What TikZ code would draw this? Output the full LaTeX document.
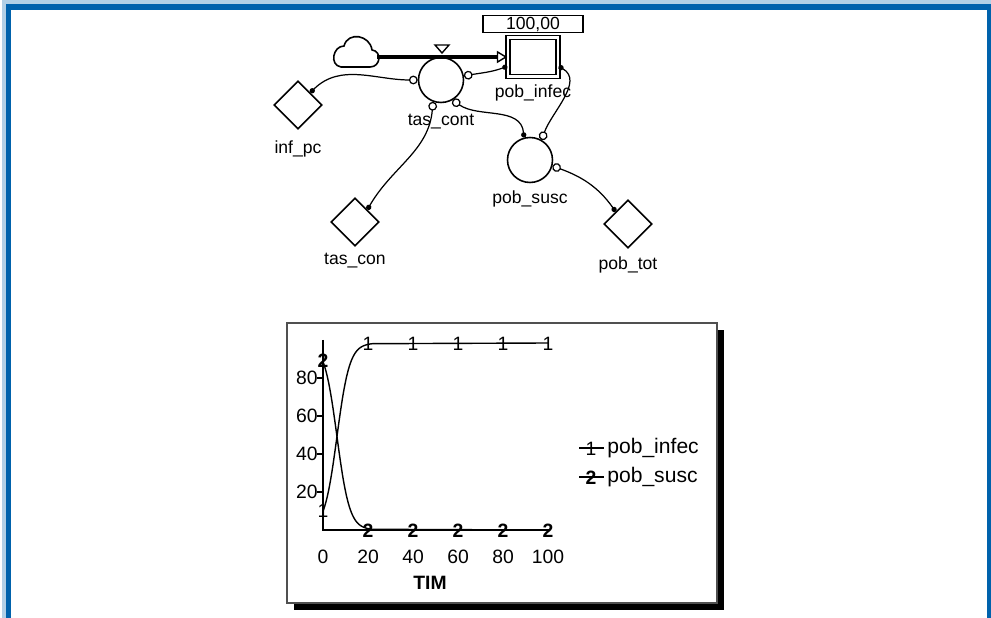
\documentclass[tikz,border=0pt]{standalone}
\usepackage{fontspec}
\setmainfont{Liberation Sans}
\usetikzlibrary{shapes.geometric, arrows.meta, positioning}
\definecolor{lframe}{HTML}{0062AC}
\definecolor{lbox}{HTML}{505050}

\begin{document}
\begin{tikzpicture}[x=0.02cm, y=-0.02cm,
  every node/.style={font=\fontsize{10}{12}\selectfont},
  lbl/.style={inner sep=0pt},
  aux/.style={diamond, draw, line width=0.9pt, minimum size=0.96cm, inner sep=0pt},
  conv/.style={circle, draw, line width=0.9pt, minimum size=0.9cm, inner sep=0pt},
  stockbox/.style={rectangle, draw, line width=0.8pt, double, double distance=1.4pt, minimum width=1cm, minimum height=0.78cm},
  link/.style={line width=0.7pt, {Circle[length=3pt]}-{Circle[open,length=5pt]}},
  mk/.style={inner sep=0pt, font=\fontsize{11}{12}\selectfont}]
  \useasboundingbox (0,0) rectangle (991,618);
  % frame
  \draw[lframe!30, line width=2pt] (4,630) -- (4,2) -- (995,2);
  \draw[lframe, line width=0.12cm] (8.5,630) -- (8.5,7) -- (990,7) -- (990,630);

  % model
  \draw[line width=0.9pt] (341,67) -- (370,67) .. controls (381,67) and (382,51) .. (372,50)
    .. controls (370,35) and (348,31) .. (344,46) .. controls (333,46) and (329,65) .. (341,67) -- cycle;
  \coordinate (src) at (377,57);
  \node[stockbox] (pobinfec) at (533,57) {};
  \node[draw, line width=0.8pt, minimum width=2cm, minimum height=0.34cm, inner sep=0pt] (disp) at (533,24) {100,00};
  \node[conv] (tascont) at (441,80) {};
  \node[conv] (pobsusc) at (530,160) {};
  \node[aux] (infpc) at (298,105) {};
  \node[aux] (tascon) at (355,222) {};
  \node[aux] (pobtot) at (628,224) {};
  \node[lbl, below=0.22cm of tascont] (ltascont) {tas\_cont};
  \node[lbl, below=0.14cm of pobinfec] (lpobinfec) {pob\_infec};
  \node[lbl, below=0.14cm of pobsusc] (lpobsusc) {pob\_susc};
  \node[lbl, below=0.22cm of infpc] (linfpc) {inf\_pc};
  \node[lbl, below=0.12cm of tascon] (ltascon) {tas\_con};
  \node[lbl, below=0.16cm of pobtot] (lpobtot) {pob\_tot};

  \draw[line width=2pt, -{Triangle[open, length=6pt, width=7pt, line width=0.8pt]}] (src) -- (pobinfec.west);
  \draw[line width=0.8pt, fill=white] (435,45) -- (449,45) -- (442,53) -- cycle;
  \draw[link] (infpc.north east) to[out=45, in=180] (tascont.west);
  \draw[link] (pobinfec.200) to[out=200, in=10] (tascont.10);
  \draw[link] (tascon.north east) to[out=60, in=265] (tascont.250);
  \draw[link] (pobinfec.340) to[out=-30, in=70] (pobsusc.60);
  \draw[link] (pobsusc.105) to[out=95, in=-35] (tascont.300);
  \draw[link] (pobtot.north west) to[out=125, in=-20] (pobsusc.-15);

  % graph
  \fill (294,330) rectangle (724,610);
  \draw[lbox, fill=white, line width=1pt] (287,323) rectangle (717,603);
  \draw[line width=0.8pt] (323,340) -- (323,530) -- (550,530);
  \foreach \v in {20,40,60,80} {
    \draw[line width=0.8pt] (317,{530-1.9*\v}) -- (323,{530-1.9*\v});
    \node[mk, left] at (318,{530-1.9*\v}) {\v};
  }
  \foreach \t in {0,20,...,100}
    \node[mk] at ({323+2.25*\t},557) {\t};
  \node[mk, font=\fontsize{11}{12}\selectfont\bfseries] at (430,583) {TIM};
  \draw[line width=0.8pt, domain=0:22, samples=60, smooth]
    plot ({323+2.25*\x},{530-187/(1+9*exp(-0.354*\x))}) -- (548,343);
  \draw[line width=0.8pt, domain=0:22, samples=60, smooth]
    plot ({323+2.25*\x},{530-187*9*exp(-0.354*\x)/(1+9*exp(-0.354*\x))}) -- (548,530);
  \node[mk] at (323,511) {1};
  \node[mk, font=\fontsize{11}{12}\selectfont\bfseries] at (323,361) {2};
  \foreach \t in {20,40,...,100} {
    \node[mk] at ({323+2.25*\t},344) {1};
    \node[mk, font=\fontsize{11}{12}\selectfont\bfseries] at ({323+2.25*\t},531) {2};
  }
  % legend
  \draw[line width=0.8pt] (579,448) -- (604,448);
  \node[mk] (k1) at (591,449) {1};
  \node[mk, anchor=west, font=\fontsize{12}{14}\selectfont] (t1) at (607,448) {pob\_infec};
  \draw[line width=0.8pt] (579,477) -- (604,477);
  \node[mk, font=\fontsize{11}{12}\selectfont\bfseries] (k2) at (591,478) {2};
  \node[mk, anchor=west, font=\fontsize{12}{14}\selectfont] (t2) at (607,477) {pob\_susc};
\end{tikzpicture}
\end{document}
